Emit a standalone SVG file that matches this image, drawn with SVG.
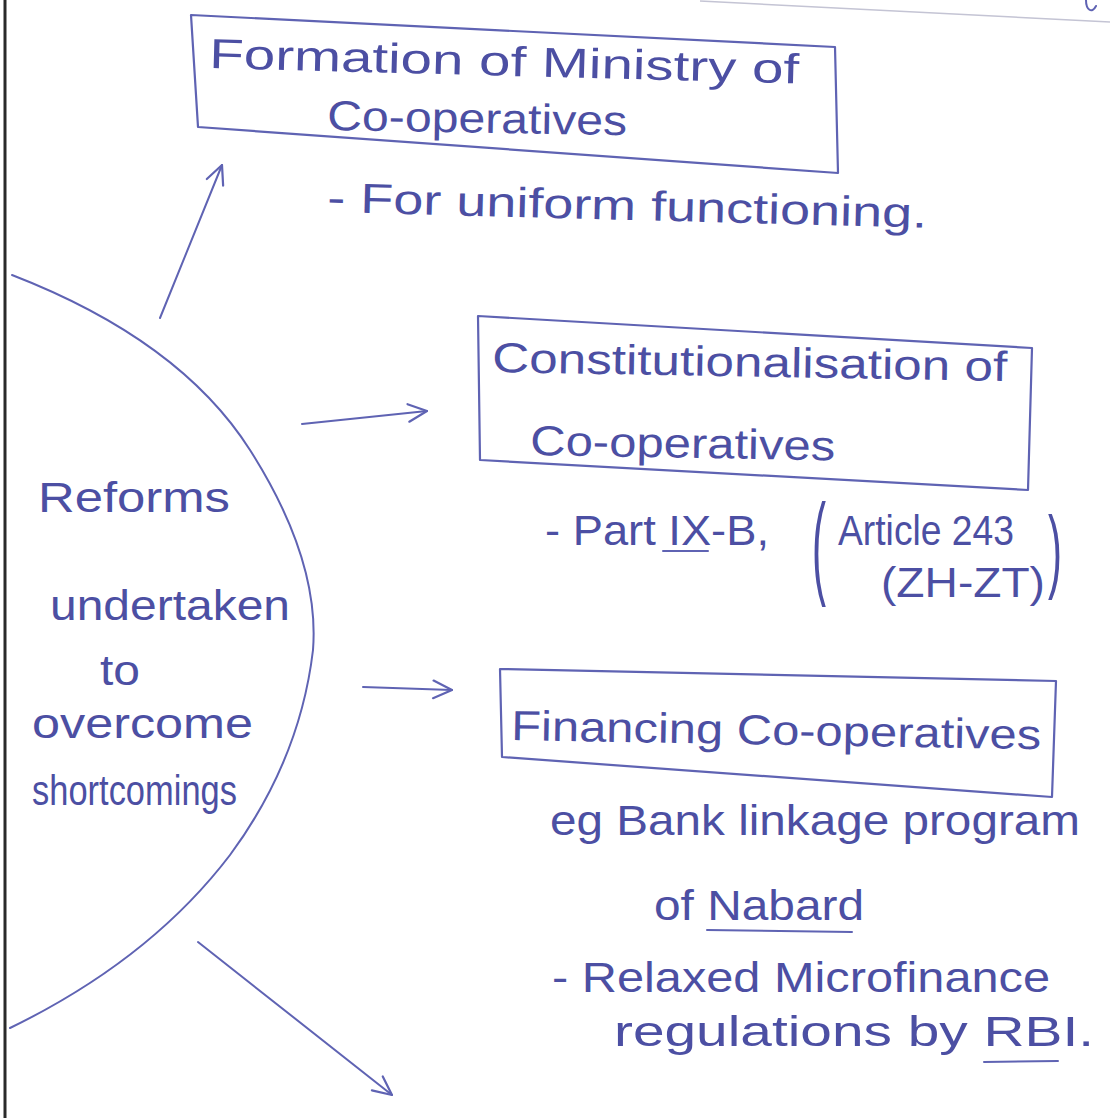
<svg xmlns="http://www.w3.org/2000/svg" width="1114" height="1118" viewBox="0 0 1114 1118">
<style>
.ink{fill:#4c4fa3;font-family:"Liberation Sans",Arial,sans-serif;font-size:42px}
.line{fill:none;stroke:#5f63b3;stroke-width:2;stroke-linecap:round;stroke-linejoin:round}
.box{fill:none;stroke:#5f63b3;stroke-width:2.2;stroke-linejoin:round}
</style>
<defs>
<marker id="vhead" viewBox="0 0 20 20" refX="19" refY="10" markerWidth="22" markerHeight="22" markerUnits="userSpaceOnUse" orient="auto">
<path d="M2,2 L19,10 L2,18" fill="none" stroke="#5f63b3" stroke-width="2" stroke-linecap="round" stroke-linejoin="round"/>
</marker>
</defs>
<rect x="0" y="0" width="1114" height="1118" fill="#ffffff"/>
<line x1="5" y1="0" x2="5" y2="1118" stroke="#2a2a2a" stroke-width="3"/>
<path d="M700,1 L1110,22" fill="none" stroke="#c4c4d4" stroke-width="1.5"/>
<path class="line" d="M1086,0 C1086,10 1092,14 1096,6"/>

<g id="center">
<path class="line" d="M12,275 Q180,340 250,450 Q320,560 313,650 Q300,760 230,855 Q150,960 10,1028"/>
<text class="ink" x="38" y="512" textLength="192" lengthAdjust="spacingAndGlyphs">Reforms</text>
<text class="ink" x="50" y="620" textLength="240" lengthAdjust="spacingAndGlyphs">undertaken</text>
<text class="ink" x="100" y="685" textLength="40" lengthAdjust="spacingAndGlyphs">to</text>
<text class="ink" x="32" y="738" textLength="221" lengthAdjust="spacingAndGlyphs">overcome</text>
<text class="ink" x="32" y="805" textLength="205" lengthAdjust="spacingAndGlyphs">shortcomings</text>
</g>

<g id="node-ministry">
<path class="box" d="M191,15 L835,47 L838,173 L198,127 Z"/>
<text class="ink" x="209" y="68" textLength="590" lengthAdjust="spacingAndGlyphs" transform="rotate(1.5 209 68)">Formation of Ministry of</text>
<text class="ink" x="327" y="130" textLength="300" lengthAdjust="spacingAndGlyphs" transform="rotate(1 327 130)">Co-operatives</text>
<text class="ink" x="327" y="212" textLength="600" lengthAdjust="spacingAndGlyphs" transform="rotate(1.5 327 212)">- For uniform functioning.</text>
</g>

<g id="node-constitution">
<path class="box" d="M478,316 L1032,348 L1028,490 L480,460 Z"/>
<text class="ink" x="492" y="372" textLength="515" lengthAdjust="spacingAndGlyphs" transform="rotate(1 492 372)">Constitutionalisation of</text>
<text class="ink" x="530" y="455" textLength="305" lengthAdjust="spacingAndGlyphs" transform="rotate(1 530 455)">Co-operatives</text>
<text class="ink" x="545" y="545" textLength="224" lengthAdjust="spacingAndGlyphs">- Part IX-B,</text>
<line class="line" x1="663" y1="551" x2="708" y2="551"/>
<text class="ink" x="812" y="216" transform="scale(1,2.7)">(</text>
<text class="ink" x="838" y="545" textLength="176" lengthAdjust="spacingAndGlyphs">Article 243</text>
<text class="ink" x="881" y="597" textLength="164" lengthAdjust="spacingAndGlyphs">(ZH-ZT)</text>
<text class="ink" x="1048" y="264" transform="scale(1,2.2)">)</text>
</g>

<g id="node-financing">
<path class="box" d="M500,669 L1056,681 L1052,797 L502,757 Z"/>
<text class="ink" x="511" y="740" textLength="530" lengthAdjust="spacingAndGlyphs" transform="rotate(1 511 740)">Financing Co-operatives</text>
<text class="ink" x="550" y="835" textLength="530" lengthAdjust="spacingAndGlyphs">eg Bank linkage program</text>
<text class="ink" x="654" y="920" textLength="210" lengthAdjust="spacingAndGlyphs">of Nabard</text>
<line class="line" x1="707" y1="930" x2="852" y2="932"/>
<text class="ink" x="552" y="992" textLength="498" lengthAdjust="spacingAndGlyphs">- Relaxed Microfinance</text>
<text class="ink" x="614" y="1046" textLength="480" lengthAdjust="spacingAndGlyphs">regulations by RBI.</text>
<line class="line" x1="984" y1="1062" x2="1058" y2="1061"/>
</g>

<g id="connectors">
<path class="line" d="M160,318 L222,165" marker-end="url(#vhead)"/>
<path class="line" d="M302,424 L427,411" marker-end="url(#vhead)"/>
<path class="line" d="M363,687 L452,690" marker-end="url(#vhead)"/>
<path class="line" d="M198,942 L392,1095" marker-end="url(#vhead)"/>
</g>
</svg>
